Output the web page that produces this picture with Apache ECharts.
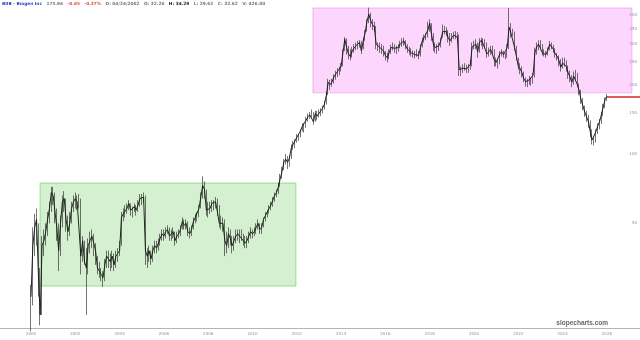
<!DOCTYPE html>
<html><head><meta charset="utf-8">
<script src="https://cdn.jsdelivr.net/npm/echarts@6/dist/echarts.min.js"></script>
<style>html,body{margin:0;padding:0;background:#fff}#c{width:640px;height:340px}</style>
</head><body><div id="c"></div>
<script>
// Monthly bars, Jan 2000 .. Jan 2026
const firstYear = 2000;
const closes = [
 24,40,48,52,30,20,40,42,46,52,58,68,
 66,56,48,38,50,62,64,52,46,50,58,62,
 64,62,63,36,42,34,32,40,42,44,41,38,
 32,31,30,29,33,36,35,34,36,33,36,37,
 38,53,55,56,58,61,57,56,59,57,60,64,
 64,65,38,36,38,35,38,40,39,41,43,45,
 44,46,47,44,45,46,42,44,45,47,51,49,
 50,46,45,47,51,53,54,58,65,73,70,57,
 57,58,61,60,62,56,50,50,50,42,40,45,
 43,40,42,44,45,44,44,42,41,42,44,46,
 45,46,48,50,47,48,52,54,56,58,60,63,
 66,68,72,78,84,92,95,92,96,106,110,112,
 118,118,126,132,130,140,145,148,150,138,150,146,
 150,152,158,165,180,205,200,205,215,222,228,232,
 240,275,315,290,272,265,280,288,295,300,305,280,
 310,335,375,405,380,365,355,300,295,290,285,280,
 268,262,275,290,295,288,285,290,300,305,310,295,
 285,280,275,272,270,275,268,290,310,320,325,345,
 370,330,300,290,285,295,310,340,345,340,320,310,
 320,328,330,322,232,228,236,240,234,238,245,292,
 296,300,278,305,312,300,305,272,278,285,282,256,
 250,246,272,278,270,265,290,355,335,338,290,265,
 240,235,225,212,206,202,210,206,220,275,292,300,
 300,275,275,270,282,300,295,285,272,266,255,238,
 248,252,240,225,216,205,218,222,200,188,172,162,
 152,145,138,125,115,114,125,132,138,148,160,172,
 178
];
const lows = [
 17,22,36,40,24,18,20,36,40,44,50,56,
 60,50,42,31,36,48,56,46,42,44,50,56,
 58,57,58,30,34,33,20,30,37,39,36,33,
 30,29,28,26.5,28,32,32,31,32,31,32,34,
 36,40,51,53,55,57,54,53,56,54,56,59,
 60,61,33,32,34,33,34,37,37,38,40,42,
 42,43,45,42,42,43,40,41,43,44,47,47,
 47,44,43,44,47,50,51,53,58,64,64,54,
 53,55,56,57,58,54,48,47,46,36,37,39,
 40,37,38,41,42,41,42,40,39,39,41,43,
 43,44,45,47,45,45,48,51,53,55,57,59,
 62,65,67,72,78,85,90,86,88,95,104,106,
 112,114,118,125,124,130,138,142,144,134,138,140,
 144,146,150,156,164,180,190,196,202,210,216,220,
 228,240,280,270,258,255,262,275,282,285,290,272,
 285,310,340,370,355,345,340,285,280,275,272,265,
 255,250,258,272,282,275,272,278,288,292,295,285,
 275,270,265,262,260,264,258,265,290,305,312,320,
 340,310,280,275,272,280,290,320,330,325,305,295,
 305,315,315,305,218,218,225,230,225,225,232,240,
 285,285,262,275,295,285,290,262,265,270,270,240,
 240,235,245,265,262,258,262,285,320,325,280,255,
 232,222,215,205,196,195,200,198,202,215,270,282,
 288,268,265,262,268,282,285,275,262,255,240,228,
 235,240,228,212,205,195,200,210,195,180,165,155,
 145,138,130,118,110,109,112,122,128,135,146,158,
 170
];
const highs = [
 27,48,55,58,50,32,44,47,50,56,62,72,
 72,68,58,50,54,66,69,64,54,56,62,66,
 68,66,67,64,44,42,39,43,46,47,45,41,
 36,34,32,31,35,38,38,37,38,37,38,39,
 42,56,58,60,61,63,61,59,61,60,63,67,
 67,68,66,39,40,38,40,42,42,43,45,47,
 47,48,49,48,47,48,46,46,47,49,53,52,
 52,51,48,49,53,55,56,60,68,80,76,70,
 62,62,63,63,65,64,60,54,53,52,46,48,
 47,44,44,47,47,47,47,45,44,44,46,48,
 47,48,50,52,50,50,53,56,57,60,62,65,
 68,70,75,82,88,95,100,98,99,110,114,116,
 122,122,128,136,136,145,150,152,156,152,154,154,
 156,158,162,170,186,212,210,212,222,230,236,240,
 248,285,322,318,295,285,292,300,305,310,312,310,
 320,345,385,432,410,385,375,360,305,305,300,295,
 280,275,285,298,305,300,295,300,310,318,320,312,
 300,292,288,282,280,285,280,300,320,330,335,375,
 385,370,335,305,300,305,320,365,360,355,345,335,
 335,340,342,338,330,240,245,248,244,246,255,305,
 310,315,305,318,320,318,315,305,290,295,295,285,
 262,258,280,285,280,275,300,430,370,350,340,295,
 262,248,240,228,215,212,218,215,225,290,305,312,
 312,300,285,280,290,310,305,298,288,275,268,258,
 262,262,255,242,230,220,228,232,225,202,190,175,
 162,154,148,140,128,120,128,136,142,152,165,176,
 182
];
const yearTicks = [2000,2002,2004,2006,2008,2010,2012,2014,2016,2018,2020,2022,2024,2026];
const priceTicks = [50,100,150,200,250,300,350,400];
// annotation zones (x in years, y in price)
const greenZone = {from:2000.41, to:2011.96, low:26.7, high:74.8};
const pinkZone = {from:2012.73, to:2027.13, low:184.3, high:430.6};
const redLevel = {from:2026.0, price:176.8};

const xMin = 1998.6005, xMax = 2027.494;

const candles = closes.map((c,i)=>{
  const o = i>0 ? closes[i-1] : c;
  return [firstYear + i/12, o, c, lows[i], highs[i]];
});
const closeLine = closes.map((c,i)=>[firstYear + i/12, c]);

const chart = echarts.init(document.getElementById('c'), null, {renderer:'canvas'});
chart.setOption({
  animation:false,
  backgroundColor:'#fff',
  title:{
    left:2, top:2, padding:0,
    text:'{n|BIIB - Biogen Inc}   {g|175.94}   {r|-0.65   -0.37%}   {g|D: 04/24/2002   O: 32.26}   {b|H: 34.29}   {g|L: 29.62   C: 32.62   V: 426.00}',
    textStyle:{
      fontSize:4.3, fontFamily:'DejaVu Sans',
      rich:{
        n:{color:'#3344cc', fontSize:4.3},
        g:{color:'#777', fontSize:4.3},
        r:{color:'#e0503a', fontSize:4.3},
        b:{color:'#222', fontSize:4.3, fontWeight:'bold'}
      }
    }
  },
  graphic:[{
    type:'text', right:32, top:320,
    style:{text:'slopecharts.com', fill:'#666', font:'bold 6.5px "Liberation Sans"'}
  }],
  grid:{left:0, right:0, top:0, bottom:12},
  xAxis:{
    type:'value', min:xMin, max:xMax,
    axisLine:{show:true, lineStyle:{color:'#b5b5b5', width:1}},
    axisTick:{show:false},
    splitLine:{show:false},
    axisLabel:{
      customValues: yearTicks,
      formatter:(v)=>String(Math.round(v)),
      fontSize:4, color:'#8a90a8', margin:4, fontFamily:'DejaVu Sans'
    }
  },
  yAxis:{
    type:'log', logBase:10, min:17.55, max:466.4, position:'right',
    axisLine:{show:false}, axisTick:{show:false}, splitLine:{show:false},
    axisLabel:{
      customValues: priceTicks,
      inside:true, fontSize:4, color:'#8a90a8', margin:3, fontFamily:'DejaVu Sans',
      formatter:(v)=>String(Math.round(v))
    }
  },
  series:[
    {
      type:'line', data:[], z:1, clip:false,
      markArea:{
        silent:true,
        data:[
          [{coord:[greenZone.from, greenZone.high], itemStyle:{color:'rgba(100,200,80,0.27)', borderColor:'rgba(80,185,70,0.5)', borderWidth:1}},
           {coord:[greenZone.to, greenZone.low]}],
          [{coord:[pinkZone.from, pinkZone.high], itemStyle:{color:'rgba(245,120,245,0.3)', borderColor:'rgba(230,110,230,0.45)', borderWidth:1}},
           {coord:[pinkZone.to, pinkZone.low]}]
        ]
      },
      markLine:{
        silent:true, symbol:['none','none'], label:{show:false},
        lineStyle:{color:'#d42a2a', width:1.5, type:'solid'},
        data:[[{coord:[redLevel.from, redLevel.price]},{coord:[xMax, redLevel.price]}]]
      }
    },
    {
      type:'line', z:3, data:closeLine, symbol:'none',
      lineStyle:{color:'#1c2a1c', width:1}
    },
    {
      type:'candlestick', z:4,
      encode:{x:0, y:[1,2,3,4]},
      data:candles,
      barWidth:1,
      itemStyle:{color:'#1a1a1a', color0:'#1a1a1a', borderColor:'#1a1a1a', borderColor0:'#1a1a1a', borderWidth:0.6}
    }
  ]
});
</script></body></html>
